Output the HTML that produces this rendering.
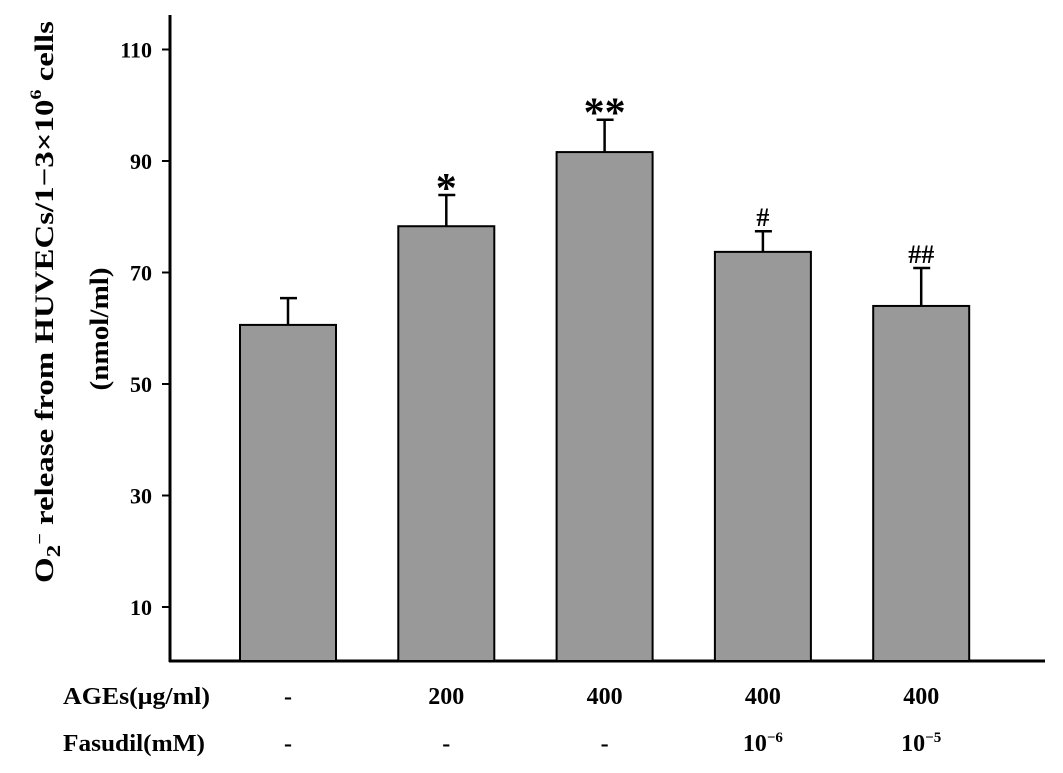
<!DOCTYPE html>
<html><head><meta charset="utf-8">
<style>
body{margin:0;background:#fff;}
svg{display:block;font-family:"Liberation Serif",serif;font-weight:bold;}
</style></head>
<body>
<svg id="chart" width="1063" height="773" viewBox="0 0 1063 773">
  <g id="ylabel">
    <text transform="translate(53,302) rotate(-90)" text-anchor="middle" font-size="26" textLength="562" lengthAdjust="spacingAndGlyphs">O<tspan font-size="20" dy="7">2</tspan><tspan dy="-15" font-size="16">−</tspan><tspan dy="8"> release from HUVECs/1−3×10</tspan><tspan font-size="16" dy="-12">6</tspan><tspan dy="12"> cells</tspan></text>
    <text transform="translate(108,329) rotate(-90)" text-anchor="middle" font-size="26" textLength="123" lengthAdjust="spacingAndGlyphs">(nmol/ml)</text>
  </g>
  <g id="axes"></g>
  <g id="bars"></g>
  <g id="xtable" font-size="24"></g>
</svg>
<script>
const categories=["control","AGEs200","AGEs400","AGEs400+Fas6","AGEs400+Fas5"];
const values=[60.6,78.3,91.6,73.7,64.0];
const errors=[4.8,5.6,5.8,3.7,6.8];
const marks=["","*","**","#","##"];
const yTicks=[10,30,50,70,90,110];
const agesRow=["-","200","400","400","400"];
const fasRow=["-","-","-","10","10"];
const fasExp=["","","","−6","−5"];

const NS="http://www.w3.org/2000/svg";
const X0=170,Y0=661,YTOP=15;
const y=v=>607-(v-10)*5.575;
const barLeft=i=>240+i*158.3;
const BW=96;
function el(tag,attrs,parent){const e=document.createElementNS(NS,tag);for(const k in attrs)e.setAttribute(k,attrs[k]);parent.appendChild(e);return e;}
const axes=document.getElementById('axes'),bars=document.getElementById('bars'),xt=document.getElementById('xtable');

const ya=el('line',{x1:X0,y1:YTOP,x2:X0,y2:Y0+1,stroke:'#000','stroke-width':3},axes);


const xa=el('line',{x1:X0-1,y1:Y0,x2:1045,y2:Y0,stroke:'#000','stroke-width':3},axes);


yTicks.forEach(t=>{
  const tk=el('line',{x1:X0-8,y1:y(t),x2:X0,y2:y(t),stroke:'#000','stroke-width':2},axes);
  
  
  const tl=el('text',{x:X0-18,y:y(t)+8,'text-anchor':'end','font-size':22},axes);
  tl.textContent=t;
  
  
});
categories.forEach((c,i)=>{
  const l=barLeft(i),cx=l+BW/2,top=y(values[i]),et=y(values[i]+errors[i]);
  const eb=el('line',{x1:cx,y1:top,x2:cx,y2:et,stroke:'#000','stroke-width':2.5},bars);
  
  
  const cap=el('line',{x1:cx-8,y1:et,x2:cx+9,y2:et,stroke:'#000','stroke-width':2.5},bars);
  
  
  const r=el('rect',{x:l,y:top,width:BW,height:Y0-top,fill:'#999999',stroke:'#000','stroke-width':2},bars);
  
  
  if(marks[i]){
    const star=marks[i].includes('*');
    const m=el('text',{x:cx,y:star?et+7:et-5,'text-anchor':'middle','font-size':star?42:26},bars);
    m.textContent=marks[i];
    
    
  }
  const a=el('text',{x:cx,y:704,'text-anchor':'middle'},xt);
  a.textContent=agesRow[i];
  
  
  const f=el('text',{x:cx,y:751,'text-anchor':'middle'},xt);
  f.textContent=fasRow[i];
  if(fasExp[i]){const s=el('tspan',{dy:-9,'font-size':15},f);s.textContent=fasExp[i];}
  
  
});
const la=el('text',{x:63,y:704,textLength:147,lengthAdjust:'spacingAndGlyphs'},xt);la.textContent='AGEs(μg/ml)';


const lf=el('text',{x:63,y:751,textLength:142,lengthAdjust:'spacingAndGlyphs'},xt);lf.textContent='Fasudil(mM)';


</script>
</body></html>
